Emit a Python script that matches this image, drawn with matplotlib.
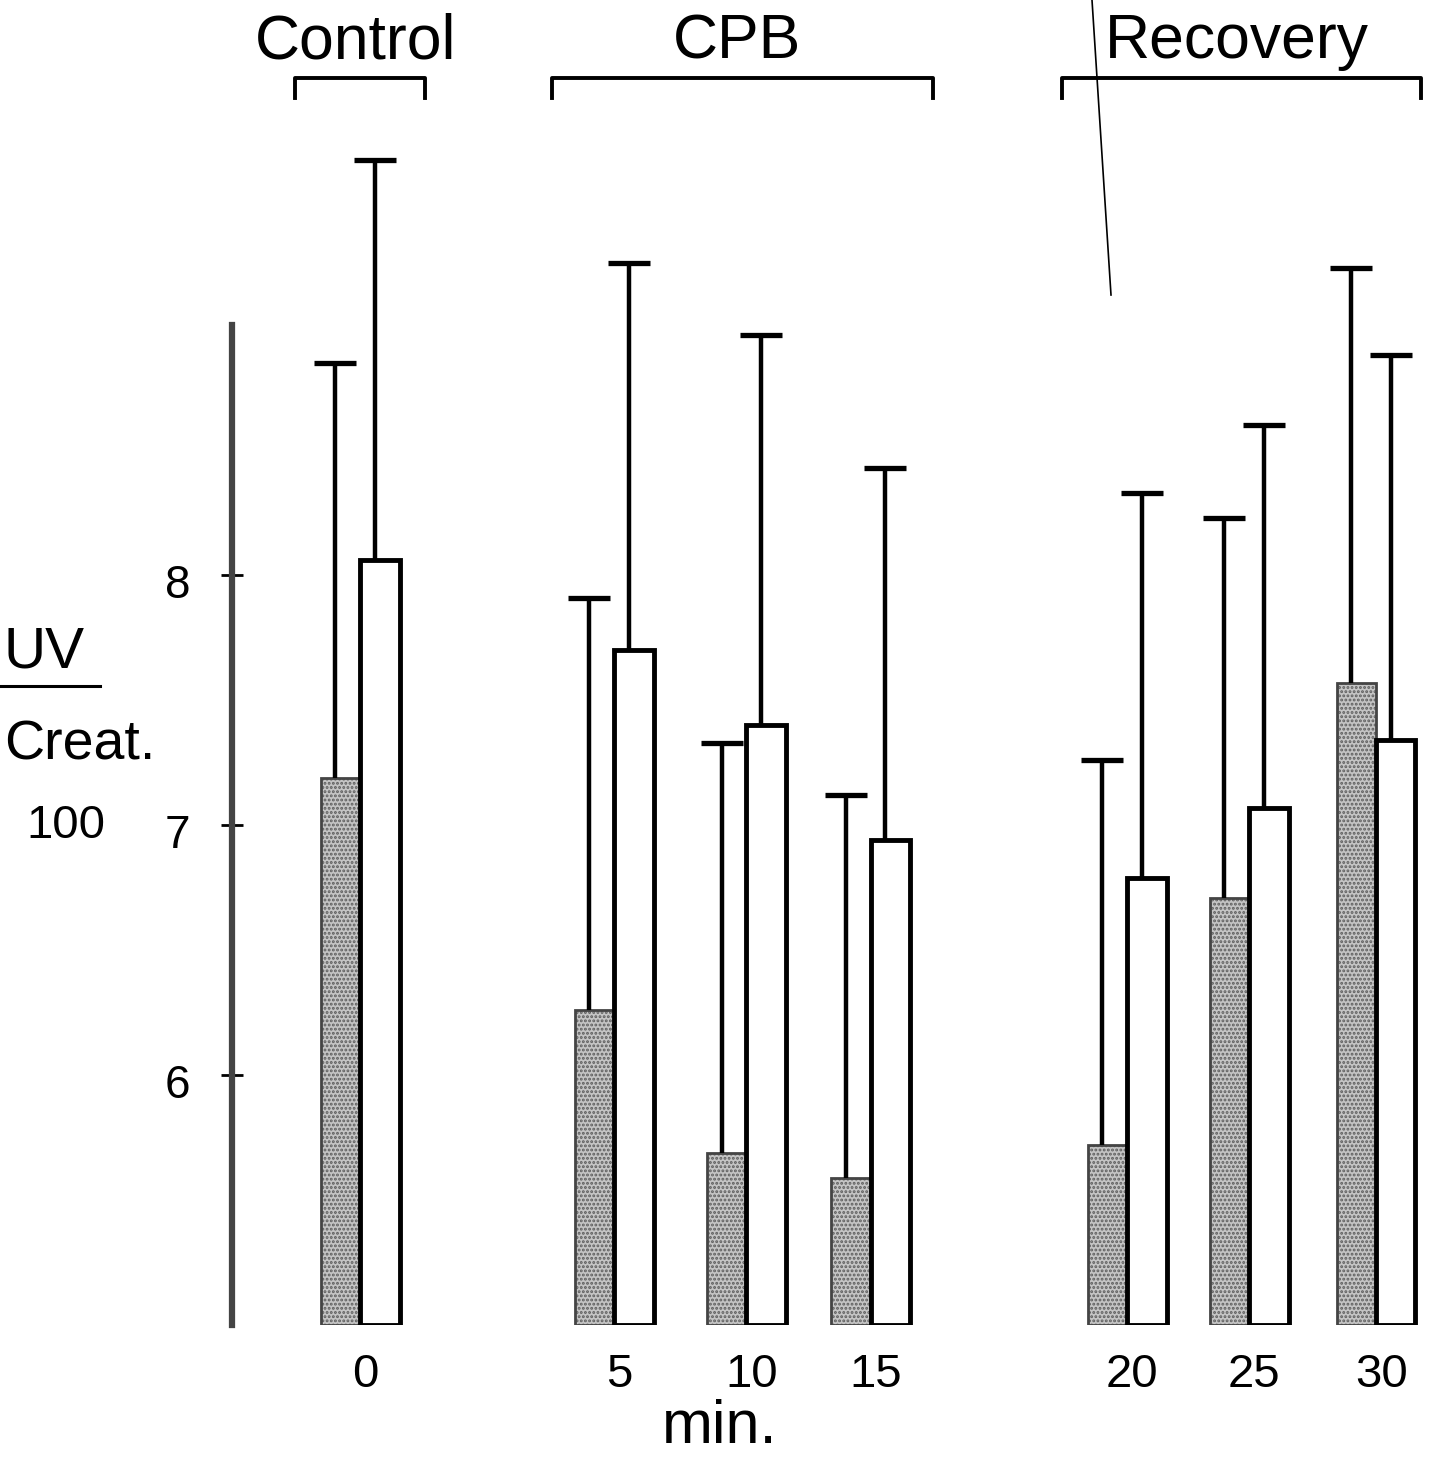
import numpy as np
import matplotlib
matplotlib.use('Agg')
import matplotlib.pyplot as plt
from matplotlib.transforms import ScaledTranslation

plt.rcParams['font.family'] = ['Liberation Sans', 'DejaVu Sans']

# minutes and their slot on the x axis (gaps between phases)
minutes = ['0', '5', '10', '15', '20', '25', '30']
slots = [0, 2, 3.04, 4.02, 6.04, 7.0, 8.0]

# stippled (grey) bars: mean and top of the error bar
grey_mean = [7.19, 6.26, 5.69, 5.59, 5.72, 6.71, 7.57]
grey_top = [8.85, 7.91, 7.33, 7.12, 7.26, 8.23, 9.23]
# open (white) bars
white_mean = [8.06, 7.70, 7.40, 6.94, 6.79, 7.07, 7.34]
white_top = [9.66, 9.25, 8.96, 8.43, 8.33, 8.60, 8.88]

# phase brackets: name, left, right (in slot units)
phases = [('Control', -0.51, 0.51), ('CPB', 1.51, 4.51), ('Recovery', 5.53, 8.35)]

base = 5.0
w = 0.31
H = 1325  # pixel row of y = 5
fig = plt.figure(figsize=(14.32, 14.61), dpi=100)
ax = fig.add_axes([232 / 1432, 1 - H / 1461, 1200 / 1432, H / 1461])
ax.set_xlim(-1.01, 8.44)
ax.set_ylim(base, base + H / 250)

x = np.array(slots, dtype=float)
gm = np.array(grey_mean)
wm = np.array(white_mean)
plt.rcParams['hatch.linewidth'] = 1.4
ax.bar(x - w / 2, gm - base, w, bottom=base, color='#c4c4c4',
       edgecolor='#5e5e5e', hatch='....', linewidth=0)
ax.bar(x - w / 2, gm - base, w, bottom=base, color='none',
       edgecolor='#444444', linewidth=2)
ax.bar(x + w / 2, wm - base, w, bottom=base, color='white',
       edgecolor='black', linewidth=3.5)

ge = np.array(grey_top) - gm
we = np.array(white_top) - wm
for xs, m, e in [(x - w / 2 - 0.04, gm, ge), (x + w / 2 - 0.04, wm, we)]:
    eb = ax.errorbar(xs, m, yerr=[np.zeros_like(e), e], fmt='none',
                     ecolor='black', elinewidth=3.2, capsize=15, capthick=3.8)
    eb[1][0].set_visible(False)  # no cap at the bar top

# spines / ticks
for s in ['top', 'right', 'bottom']:
    ax.spines[s].set_visible(False)
ax.spines['left'].set_bounds(base, 9.0)
ax.spines['left'].set_linewidth(4.5)
ax.spines['left'].set_color('#444444')
ax.set_yticks([6, 7, 8])
ax.set_yticklabels(['6', '7', '8'])
ax.tick_params(axis='y', direction='inout', length=16, width=2,
               labelsize=33, pad=22)
shift = ScaledTranslation(0, -0.06, fig.dpi_scale_trans)
for lab in ax.get_yticklabels():
    lab.set_transform(lab.get_transform() + shift)
ax.set_xticks(x + 0.04)
ax.set_xticklabels(minutes)
ax.tick_params(axis='x', length=0, labelsize=34, pad=20)
ax.text(2.83, base - 0.41, 'min.', ha='center', va='center', fontsize=44,
        clip_on=False)

# phase brackets on top
yb = 5 + (H - 78) / 250
for name, left, right in phases:
    ax.plot([left, left, right, right], [yb - 0.08, yb, yb, yb - 0.08],
            color='black', lw=2.8, clip_on=False)
    ax.text((left + right) / 2 - 0.04, yb + 0.145, name, ha='center',
            va='center', fontsize=45, clip_on=False)

# y label, pushed against the left edge
fig.text(4 / 1432, 1 - 652 / 1461, 'UV', ha='left', va='center',
         fontsize=42)
fig.add_artist(plt.Line2D([0, 100 / 1432], [1 - 686 / 1461] * 2,
                          color='black', lw=2.2))
fig.text(4 / 1432, 1 - 746 / 1461, 'Creat.', ha='left', va='center',
         fontsize=40)
fig.text(66 / 1432, 1 - 826 / 1461, '100', ha='center', va='center',
         fontsize=34)

# scanning scratch running through the top right
fig.add_artist(plt.Line2D([1092 / 1432, 1111 / 1432],
                          [1, 1 - 295 / 1461], color='black', lw=1.2))

fig.savefig('out.png', dpi=100)
